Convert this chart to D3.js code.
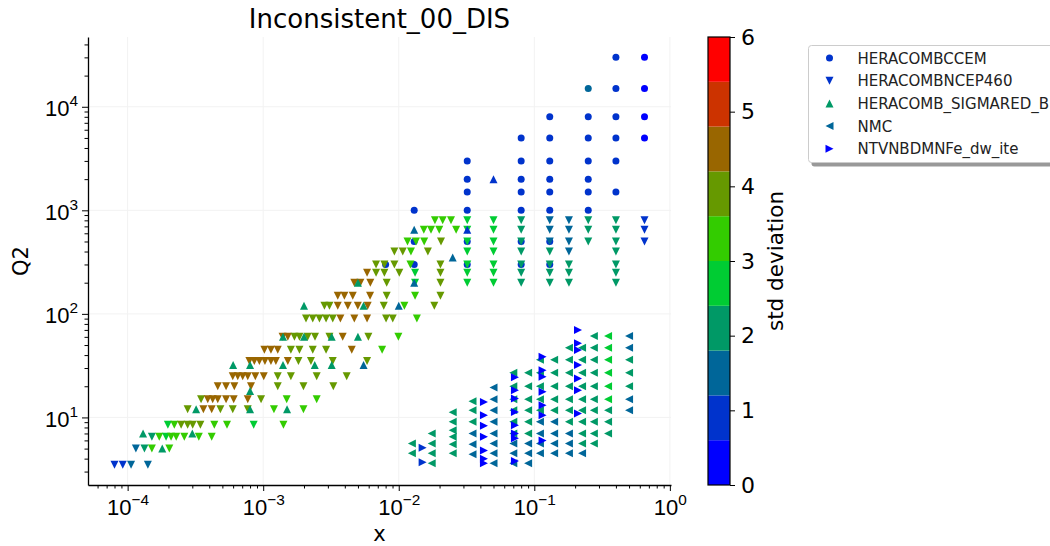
<!DOCTYPE html>
<html>
<head>
<meta charset="utf-8">
<script src="https://cdn.jsdelivr.net/npm/d3@7"></script>
<style>
  body { margin: 0; background: #fff; }
  svg { display: block; font-family: "DejaVu Sans", sans-serif; }
</style>
</head>
<body>
<svg id="chart" width="1050" height="546"></svg>
<script>
// ---- data: [x, Q2, std deviation] ----
const heraCCEM = [
  [0.008,300,0.9],
  [0.013,300,0.9],[0.013,500,0.9],[0.013,1000,0.9],
  [0.032,300,0.9],[0.032,500,0.9],[0.032,1000,0.9],[0.032,1500,0.9],[0.032,2000,0.9],[0.032,3000,0.9],
  [0.08,300,0.9],[0.08,500,0.9],[0.08,1000,0.9],[0.08,1500,0.9],[0.08,2000,0.9],[0.08,3000,0.9],[0.08,5000,0.9],
  [0.13,300,0.9],[0.13,500,0.9],[0.13,1000,0.9],[0.13,1500,0.9],[0.13,2000,0.9],[0.13,3000,0.9],[0.13,5000,0.9],[0.13,8000,0.9],
  [0.25,1000,0.9],[0.25,1500,0.9],[0.25,2000,0.9],[0.25,3000,0.9],[0.25,5000,0.9],[0.25,8000,0.9],[0.25,15000,1.4],
  [0.4,1500,0.9],[0.4,3000,0.9],[0.4,5000,0.9],[0.4,8000,0.9],[0.4,15000,0.9],[0.4,30000,0.9],
  [0.65,5000,0.4],[0.65,8000,0.4],[0.65,15000,0.4],[0.65,30000,0.4]
];

const heraNCEP460 = [
  [8.0e-5,3.5,0.9],[9.2e-5,3.5,0.9],[1.06e-4,3.5,1.5],[1.41e-4,3.5,1.5],
  [1.15e-4,5,1.5],[1.33e-4,5,2.1],[1.51e-4,5,3.3],[2.03e-4,5,3.3],
  [1.51e-4,6.5,2.1],[1.71e-4,6.5,3.3],[1.92e-4,6.5,2.7],[2.09e-4,6.5,3.3],[2.28e-4,6.5,3.3],[2.62e-4,6.5,3.3],[3.35e-4,6.5,3.3],[4.17e-4,6.5,3.3],
  [1.98e-4,8.5,2.7],[2.21e-4,8.5,3.3],[2.48e-4,8.5,3.9],[2.77e-4,8.5,3.9],[3.02e-4,8.5,3.9],[3.44e-4,8.5,3.9],[4.36e-4,8.5,3.3],[5.41e-4,8.5,3.3],[8.51e-4,8.5,2.7],[1.41e-3,8.5,3.3],
  [2.77e-4,12,3.9],[3.62e-4,12,4.5],[4.17e-4,12,4.5],[4.83e-4,12,3.9],[5.96e-4,12,3.9],[7.69e-4,12,3.9],[1.20e-3,12,3.3],[1.98e-3,12,3.3],
  [3.48e-4,15,3.9],[3.90e-4,15,4.5],[4.24e-4,15,4.5],[4.62e-4,15,4.5],[5.32e-4,15,4.5],[6.06e-4,15,4.5],[7.69e-4,15,4.5],[9.64e-4,15,3.9],[1.49e-3,15,3.3],[2.48e-3,15,3.3],
  [4.62e-4,20,4.5],[5.32e-4,20,4.5],[6.12e-4,20,4.5],[8.13e-4,20,4.5],[1.28e-3,20,3.9],[1.98e-3,20,3.9],[3.29e-3,20,3.9],
  [5.96e-4,25,4.5],[6.49e-4,25,4.5],[7.06e-4,25,4.5],[7.69e-4,25,4.5],[8.75e-4,25,4.5],[1.01e-3,25,4.5],[1.28e-3,25,3.9],[1.60e-3,25,3.9],[2.48e-3,25,3.9],[4.13e-3,25,3.9],
  [7.91e-4,35,4.5],[8.60e-4,35,4.5],[9.37e-4,35,4.5],[1.03e-3,35,4.5],[1.14e-3,35,4.5],[1.24e-3,35,4.5],[1.52e-3,35,4.5],[1.82e-3,35,3.9],[2.25e-3,35,3.9],[3.26e-3,35,3.9],[5.84e-3,35,3.9],
  [1.02e-3,45,4.5],[1.14e-3,45,4.5],[1.28e-3,45,4.5],[1.60e-3,45,3.9],[1.85e-3,45,3.9],[2.32e-3,45,3.9],[2.91e-3,45,3.9],[4.50e-3,45,4.5],[7.54e-3,45,3.3],
  [1.39e-3,60,4.5],[1.52e-3,60,4.5],[1.70e-3,60,3.9],[1.85e-3,60,3.9],[2.13e-3,60,3.9],[2.41e-3,60,3.9],[3.08e-3,60,3.9],[3.86e-3,60,4.5],[5.97e-3,60,3.9],[9.94e-3,60,3.3],
  [2.07e-3,90,3.9],[2.32e-3,90,3.9],[2.60e-3,90,3.9],[2.91e-3,90,3.9],[3.26e-3,90,3.9],[3.71e-3,90,4.5],[4.70e-3,90,4.5],[5.84e-3,90,4.5],[8.06e-3,90,3.9],[9.03e-3,90,3.9],[1.36e-2,90,3.3],
  [2.83e-3,120,3.9],[3.08e-3,120,3.9],[3.55e-3,120,4.5],[4.21e-3,120,4.5],[4.99e-3,120,4.5],[5.90e-3,120,4.5],[7.75e-3,120,3.9],[1.10e-2,120,3.3],[1.83e-2,120,3.9],
  [3.55e-3,150,4.5],[3.97e-3,150,4.5],[4.58e-3,150,4.5],[6.14e-3,150,4.5],[8.15e-3,150,3.9],[1.32e-2,150,3.3],[2.03e-2,150,3.9],
  [4.70e-3,200,4.5],[5.21e-3,200,4.5],[6.17e-3,200,4.5],[8.15e-3,200,3.9],[1.32e-2,200,2.7],[2.03e-2,200,3.9],[0.032,200,2.7],[0.05,200,2.7],[0.08,200,2.1],[0.13,200,2.1],[0.18,200,2.1],[0.4,200,2.1],
  [5.84e-3,250,4.5],[6.80e-3,250,3.9],[7.83e-3,250,3.9],[1.01e-2,250,3.9],[1.32e-2,250,2.7],[2.03e-2,250,3.9],[0.032,250,2.7],[0.05,250,2.7],[0.08,250,2.1],[0.13,250,2.1],[0.18,250,2.1],[0.4,250,2.1],
  [6.80e-3,300,3.9],[7.83e-3,300,3.9],[9.28e-3,300,3.9],[1.22e-2,300,3.3],[2.03e-2,300,3.9],[0.032,300,2.7],[0.05,300,2.7],[0.08,300,2.1],[0.13,300,2.1],[0.18,300,2.1],[0.4,300,2.1],
  [9.28e-3,400,3.9],[1.07e-2,400,3.9],[1.23e-2,400,3.3],[1.64e-2,400,3.9],[0.032,400,2.7],[0.05,400,2.7],[0.08,400,2.1],[0.13,400,2.1],[0.18,400,1.5],[0.4,400,2.1],
  [1.16e-2,500,3.3],[1.34e-2,500,3.3],[1.54e-2,500,3.3],[2.05e-2,500,3.9],[0.032,500,2.7],[0.05,500,2.7],[0.08,500,2.1],[0.13,500,1.5],[0.18,500,1.5],[0.25,500,2.1],[0.4,500,2.1],[0.65,500,0.9],
  [1.53e-2,650,3.3],[1.73e-2,650,3.3],[1.99e-2,650,3.3],[2.65e-2,650,3.3],[0.032,650,2.7],[0.05,650,2.7],[0.08,650,2.1],[0.13,650,1.5],[0.18,650,1.5],[0.25,650,2.1],[0.4,650,2.1],[0.65,650,0.9],
  [1.85e-2,800,3.3],[2.11e-2,800,3.3],[2.43e-2,800,3.3],[0.032,800,2.7],[0.05,800,2.7],[0.08,800,2.1],[0.13,800,1.5],[0.18,800,1.5],[0.25,800,2.1],[0.4,800,2.1],[0.65,800,0.9]
];

const heraSigmaredB = [
  [1.3e-4,7,2.1],[1.8e-4,5,2.1],[3.0e-4,7,2.1],[3.2e-4,12,2.1],[8.0e-4,12,2.1],[1.5e-3,12,2.1],[8.0e-4,18,2.1],
  [6.0e-4,32,2.1],[8.0e-4,32,2.1],[1.4e-3,32,2.1],[2.4e-3,32,2.1],[3.2e-3,32,2.1],[5.5e-3,32,1.5],
  [1.4e-3,60,2.1],[2.0e-3,60,2.1],[3.2e-3,60,2.1],[5.0e-3,60,2.1],
  [2.0e-3,120,2.1],[5.5e-3,120,2.1],[1.0e-2,120,1.5],
  [5.0e-3,200,2.1],[1.3e-2,200,1.5],[2.5e-2,350,1.5],[1.3e-2,650,1.5],[3.2e-2,650,0.9],[5.0e-2,2000,0.9]
];

const nmc = [
  [0.5,61,1.5],[0.5,47,1.5],[0.5,36,2.1],[0.5,27,2.1],[0.5,20,2.1],[0.5,15,1.5],[0.5,11.7,1.5],
  [0.35,61,2.7],[0.35,47,2.7],[0.35,36,2.7],[0.35,27,2.7],[0.35,20,2.7],[0.35,15,2.7],[0.35,11.7,2.1],[0.35,9.1,2.1],[0.35,7.0,2.1],
  [0.275,61,2.1],[0.275,47,2.1],[0.275,36,2.1],[0.275,27,2.1],[0.275,20,2.1],[0.275,15,2.1],[0.275,11.7,2.1],[0.275,9.1,2.1],[0.275,7.0,2.1],[0.275,5.6,2.1],
  [0.225,47,2.1],[0.225,36,2.1],[0.225,27,2.1],[0.225,20,2.1],[0.225,15,2.1],[0.225,11.7,2.1],[0.225,9.1,2.1],[0.225,7.0,2.1],[0.225,5.6,2.1],[0.225,4.5,1.5],
  [0.18,47,2.1],[0.18,36,2.1],[0.18,27,2.1],[0.18,20,2.1],[0.18,15,2.1],[0.18,11.7,2.1],[0.18,9.1,2.1],[0.18,7.0,1.5],[0.18,5.6,1.5],[0.18,4.5,1.5],
  [0.14,36,2.1],[0.14,27,2.1],[0.14,20,2.1],[0.14,15,2.1],[0.14,11.7,2.1],[0.14,9.1,1.5],[0.14,7.0,1.5],[0.14,5.6,1.5],[0.14,4.5,1.5],
  [0.11,36,2.1],[0.11,27,2.1],[0.11,20,2.1],[0.11,15,2.1],[0.11,11.7,2.1],[0.11,9.1,1.5],[0.11,7.0,1.5],[0.11,5.6,1.5],[0.11,4.5,1.5],
  [0.09,27,2.1],[0.09,20,2.1],[0.09,15,2.1],[0.09,11.7,2.1],[0.09,9.1,2.1],[0.09,7.0,2.1],[0.09,5.6,1.5],[0.09,4.5,1.5],[0.09,3.6,1.5],
  [0.07,27,2.1],[0.07,20,2.1],[0.07,15,2.1],[0.07,11.7,2.1],[0.07,9.1,2.1],[0.07,7.0,2.1],[0.07,5.6,1.5],[0.07,4.5,1.5],[0.07,3.6,1.5],
  [0.05,19.5,1.5],[0.05,15,1.5],[0.05,11.7,1.5],[0.05,9.1,1.5],[0.05,7.0,1.5],[0.05,5.6,1.5],[0.05,4.5,1.5],[0.05,3.6,1.5],
  [0.035,14.3,2.1],[0.035,11.7,2.1],[0.035,9.1,2.1],[0.035,7.0,1.5],[0.035,5.5,1.5],[0.035,4.4,1.5],
  [0.025,11.2,2.1],[0.025,9.1,2.1],[0.025,7.5,2.1],[0.025,6.5,2.1],[0.025,5.5,2.1],[0.025,4.5,2.1],
  [0.0175,7.0,2.1],[0.0175,5.6,2.1],[0.0175,4.5,2.1],[0.0175,3.6,2.1],
  [0.0125,5.6,2.1],[0.0125,4.5,2.1]
];

const nutevDimuon = [
  [0.0425,14.1,0.4],[0.0425,10.5,0.4],[0.0425,8.3,0.4],[0.0425,6.5,0.4],[0.0425,4.8,0.4],[0.0425,4.0,0.4],[0.0425,3.6,0.4],
  [0.072,24.5,0.4],[0.072,18.3,0.4],[0.072,15.2,0.4],[0.072,11.3,0.4],[0.072,8.4,0.4],[0.072,7.0,0.4],[0.072,6.3,0.4],[0.072,3.8,0.4],
  [0.115,38.5,0.4],[0.115,28.6,0.4],[0.115,24.7,0.4],[0.115,17.7,0.4],[0.115,13.1,0.4],[0.115,10.5,0.4],[0.115,6.0,0.4],
  [0.21,69.7,0.4],[0.21,51.9,0.4],[0.21,44.7,0.4],[0.21,32,0.4],[0.21,23.8,0.4],[0.21,18.3,0.4],[0.21,10.9,0.4],
  [0.015,5.1,0.9],[0.015,3.7,0.9]
];

const seriesNames = ["HERACOMBCCEM", "HERACOMBNCEP460", "HERACOMB_SIGMARED_B", "NMC", "NTVNBDMNFe_dw_ite"];
const seriesMarkers = ["circle", "down", "up", "left", "right"];
const stdPalette = ["#0000ff","#0033cc","#006699","#009966","#00cc33","#33cc00","#669900","#996600","#cc3300","#ff0000"];
const stdTicks = [0, 1, 2, 3, 4, 5, 6];
const xTicks = [1e-4, 1e-3, 1e-2, 1e-1, 1];
const yTicks = [1e1, 1e2, 1e3, 1e4];

// ---- layout ----
const plotL = 88, plotR = 671, plotT = 37, plotB = 485;
const svg = d3.select("#chart");

const allSeries = [heraCCEM, heraNCEP460, heraSigmaredB, nmc, nutevDimuon];
const flat = allSeries.flat();

// log-padded extent (5% of the data span on each side)
function padded(vals) {
  const [a, b] = d3.extent(vals).map(Math.log10);
  const m = (b - a) * 0.05;
  return [Math.pow(10, a - m), Math.pow(10, b + m)];
}
const x = d3.scaleLog().domain(padded(flat.map(d => d[0]))).range([plotL, plotR]);
const y = d3.scaleLog().domain(padded(flat.map(d => d[1]))).range([plotB, plotT]);
const color = d3.scaleQuantize().domain([0, 6]).range(stdPalette);

// minor tick positions (2..9 per decade)
function minors(scale) {
  const [lo, hi] = scale.domain();
  const out = [];
  for (let e = Math.floor(Math.log10(lo)); e <= Math.ceil(Math.log10(hi)); e++)
    for (let m = 2; m <= 9; m++) {
      const v = m * Math.pow(10, e);
      if (v >= lo && v <= hi) out.push(v);
    }
  return out;
}

// faint grid at the decades
const grid = svg.append("g").attr("stroke", "#f2f2f2").attr("stroke-width", 1);
grid.selectAll("line.gx").data(xTicks).join("line").attr("class", "gx")
  .attr("x1", d => x(d)).attr("x2", d => x(d)).attr("y1", plotT).attr("y2", plotB);
grid.selectAll("line.gy").data(yTicks).join("line").attr("class", "gy")
  .attr("y1", d => y(d)).attr("y2", d => y(d)).attr("x1", plotL).attr("x2", plotR);

// marker shapes
const shapes = {
  circle: r => `M${r},0A${r},${r} 0 1,1 ${-r},0A${r},${r} 0 1,1 ${r},0Z`,
  down:  s => `M0,${s}L${-s},${-s}L${s},${-s}Z`,
  up:    s => `M0,${-s}L${-s},${s}L${s},${s}Z`,
  left:  s => `M${-s},0L${s},${-s}L${s},${s}Z`,
  right: s => `M${s},0L${-s},${-s}L${-s},${s}Z`
};
const markerSize = { circle: 3.5, down: 4, up: 4, left: 4, right: 4 };

const pts = svg.append("g");
allSeries.forEach((data, i) => {
  const kind = seriesMarkers[i];
  pts.append("g").selectAll("path").data(data).join("path")
    .attr("transform", d => `translate(${x(d[0])},${y(d[1])})`)
    .attr("d", shapes[kind](markerSize[kind]))
    .attr("fill", d => color(d[2]));
});

// axes
function powLabel(sel, fs) {
  sel.each(function (d) {
    const e = Math.round(Math.log10(d));
    const t = d3.select(this);
    t.append("tspan").text("10");
    t.append("tspan").attr("dy", -fs * 0.45).attr("font-size", fs * 0.7)
      .text(e < 0 ? "\u2212" + (-e) : String(e));
  });
}

const xAxis = svg.append("g").attr("transform", `translate(0,${plotB})`)
  .call(d3.axisBottom(x).tickValues(xTicks).tickSize(6).tickSizeOuter(0).tickFormat(""));
svg.append("g").attr("transform", `translate(0,${plotB})`)
  .call(d3.axisBottom(x).tickValues(minors(x)).tickSize(3.5).tickSizeOuter(0).tickFormat(""))
  .call(g => g.select(".domain").remove());
xAxis.selectAll(".tick").append("text")
  .attr("y", 30).attr("fill", "#000").attr("font-size", 22).attr("text-anchor", "middle")
  .call(powLabel, 22);

const yAxis = svg.append("g").attr("transform", `translate(${plotL},0)`)
  .call(d3.axisLeft(y).tickValues(yTicks).tickSize(6).tickSizeOuter(0).tickFormat(""));
svg.append("g").attr("transform", `translate(${plotL},0)`)
  .call(d3.axisLeft(y).tickValues(minors(y)).tickSize(3.5).tickSizeOuter(0).tickFormat(""))
  .call(g => g.select(".domain").remove());
yAxis.selectAll(".tick").append("text")
  .attr("x", -10).attr("y", 9).attr("fill", "#000").attr("font-size", 22).attr("text-anchor", "end")
  .call(powLabel, 22);

svg.selectAll(".domain").attr("stroke", "#000").attr("stroke-width", 1.3);
svg.selectAll(".tick line").attr("stroke", "#000");

// titles
svg.append("text").attr("x", (plotL + plotR) / 2).attr("y", 28).attr("text-anchor", "middle")
  .attr("font-size", 26).text("Inconsistent_00_DIS");
svg.append("text").attr("x", (plotL + plotR) / 2).attr("y", 541).attr("text-anchor", "middle")
  .attr("font-size", 21).text("x");
svg.append("text").attr("transform", `translate(28,${(plotT + plotB) / 2}) rotate(-90)`)
  .attr("text-anchor", "middle").attr("font-size", 21).text("Q2");

// colorbar
const cbX = 708, cbW = 22;
const cb = d3.scaleLinear().domain([0, 6]).range([plotB, plotT]);
const bands = stdPalette.map(c => {
  const [a, b] = color.invertExtent(c);
  return { c, a, b };
});
svg.append("g").selectAll("rect").data(bands).join("rect")
  .attr("x", cbX).attr("width", cbW)
  .attr("y", d => cb(d.b)).attr("height", d => cb(d.a) - cb(d.b))
  .attr("fill", d => d.c);
svg.append("rect").attr("x", cbX).attr("y", plotT).attr("width", cbW).attr("height", plotB - plotT)
  .attr("fill", "none").attr("stroke", "#000").attr("stroke-width", 1.2);
const cbAxis = svg.append("g").attr("transform", `translate(${cbX + cbW},0)`)
  .call(d3.axisRight(cb).tickValues(stdTicks).tickSize(5).tickPadding(6).tickSizeOuter(0).tickFormat(d3.format("d")));
cbAxis.select(".domain").remove();
cbAxis.selectAll(".tick text").attr("font-size", 22).attr("font-family", "DejaVu Sans").attr("fill", "#000");
cbAxis.selectAll(".tick line").attr("stroke", "#000");
svg.append("text").attr("transform", `translate(783,${(plotT + plotB) / 2}) rotate(-90)`)
  .attr("text-anchor", "middle").attr("font-size", 21.5).text("std deviation");

// legend
const lg = svg.append("g").attr("transform", "translate(808.5,45.5)");
lg.append("rect").attr("x", 3).attr("y", 4).attr("width", 300).attr("height", 117).attr("rx", 3)
  .attr("fill", "#999");
lg.append("rect").attr("width", 300).attr("height", 117).attr("rx", 3)
  .attr("fill", "#fff").attr("stroke", "#ccc").attr("stroke-width", 1);
seriesNames.forEach((name, i) => {
  const cy = 12.5 + i * 22.7;
  const kind = seriesMarkers[i];
  lg.append("path").attr("transform", `translate(21,${cy})`)
    .attr("d", shapes[kind](markerSize[kind])).attr("fill", color(allSeries[i][0][2]));
  lg.append("text").attr("x", 49).attr("y", cy + 5.5).attr("font-size", 15).attr("fill", "#222").text(name);
});
</script>
</body>
</html>
